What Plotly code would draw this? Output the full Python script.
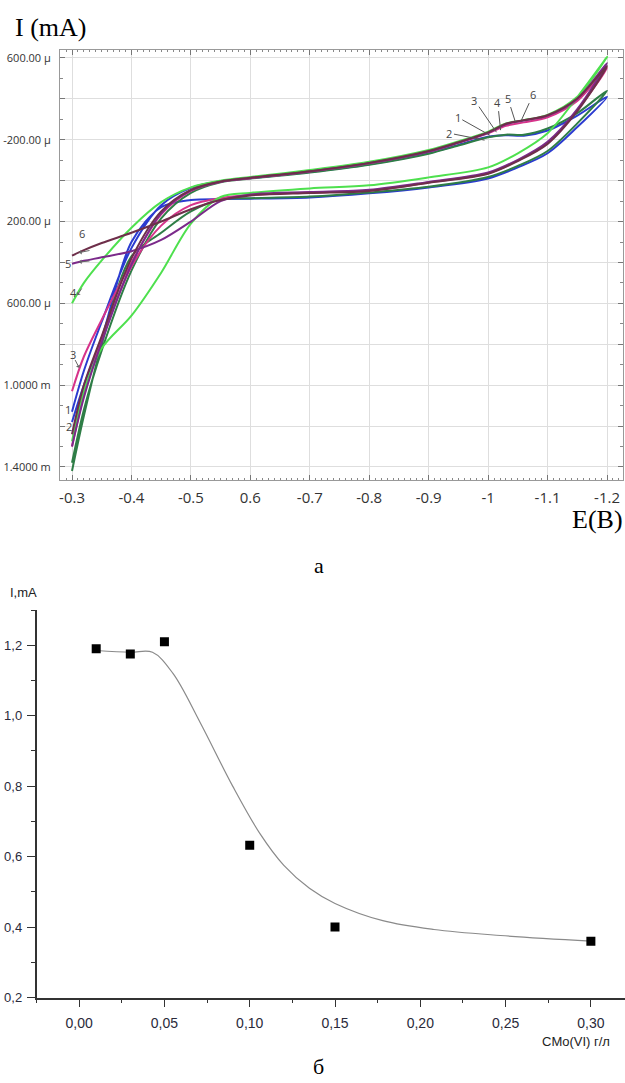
import plotly.graph_objects as go

# ---------------- Top chart (cyclic voltammograms) ----------------
E_FWD = [-0.30, -0.32, -0.35, -0.40, -0.45, -0.50, -0.55, -0.60, -0.70, -0.80,
         -0.90, -0.95, -1.00, -1.03, -1.06, -1.10, -1.15, -1.20]
E_REV = [-1.20, -1.15, -1.10, -1.05, -1.00, -0.90, -0.80, -0.70, -0.60, -0.55,
         -0.50, -0.45, -0.40, -0.35, -0.32, -0.30]

# currents in µA (axis labels shown in µ / m units)
I_FWD_1 = [1130, 930, 690, 330, 120, 35, 2, -12, -42, -80, -135, -175, -215, -222, -220, -245, -318, -410]
I_FWD_2 = [1380, 1120, 830, 440, 185, 60, 8, -10, -40, -78, -132, -172, -212, -225, -224, -255, -330, -440]
I_FWD_3 = [1030, 860, 680, 400, 165, 50, 5, -12, -45, -85, -142, -185, -232, -268, -285, -310, -390, -550]
I_FWD_4 = [600, 500, 390, 230, 105, 33, 0, -18, -52, -92, -150, -192, -240, -280, -296, -322, -410, -605]
I_FWD_5 = [1300, 1060, 790, 410, 160, 48, 5, -13, -45, -86, -143, -186, -234, -276, -294, -318, -400, -575]
I_FWD_6 = [1240, 1000, 760, 380, 150, 45, 4, -14, -46, -87, -145, -188, -236, -278, -296, -320, -402, -560]

I_REV_1 = [-410, -262, -134, -65, -11, 33, 62, 82, 88, 90, 95, 130, 300, 770, 1000, 1180]
I_REV_2 = [-440, -280, -145, -72, -18, 30, 58, 78, 86, 92, 150, 255, 370, 800, 1150, 1420]
I_REV_3 = [-550, -345, -183, -99, -36, 9, 48, 58, 70, 85, 120, 220, 420, 780, 1050, 1300]
I_REV_4 = [-605, -409, -232, -134, -65, -16, 23, 38, 60, 80, 210, 450, 660, 820, 1030, 1275]
I_REV_5 = [-575, -350, -190, -102, -40, 6, 45, 56, 68, 100, 200, 290, 345, 375, 392, 406]
I_REV_6 = [-560, -340, -180, -96, -34, 10, 50, 60, 72, 95, 140, 200, 255, 305, 340, 367]

CURVE_COLORS = ["#2b3bd0", "#2e7d46", "#d6338a", "#4ee04e", "#7b2a8a", "#6e2f4a"]

E_TICKS = [-0.3, -0.4, -0.5, -0.6, -0.7, -0.8, -0.9, -1.0, -1.1, -1.2]
E_TICKTEXT = ["-0.3", "-0.4", "-0.5", "0.6", "-0.7", "-0.8", "-0.9", "-1", "-1.1", "-1.2"]
I_TICKS = [-600, -400, -200, 0, 200, 400, 600, 800, 1000, 1200, 1400]
I_TICKTEXT = ["600.00 µ", "", "-200.00 µ", "", "200.00 µ", "", "600.00 µ", "", "1.0000 m", "", "1.4000 m"]

# ---------------- Bottom chart ----------------
C_MO = [0.01, 0.03, 0.05, 0.10, 0.15, 0.30]
I_MA = [1.19, 1.175, 1.21, 0.632, 0.40, 0.36]
FIT_X = [0.01, 0.03, 0.043, 0.055, 0.071, 0.09, 0.106, 0.12, 0.135, 0.15, 0.178, 0.208, 0.247, 0.30]
FIT_Y = [1.185, 1.18, 1.18, 1.12, 0.98, 0.80, 0.665, 0.575, 0.51, 0.467, 0.418, 0.393, 0.376, 0.36]
C_TICKS = [0.0, 0.05, 0.10, 0.15, 0.20, 0.25, 0.30]
C_TICKTEXT = ["0,00", "0,05", "0,10", "0,15", "0,20", "0,25", "0,30"]
IM_TICKS = [0.2, 0.4, 0.6, 0.8, 1.0, 1.2]
IM_TICKTEXT = ["0,2", "0,4", "0,6", "0,8", "1,0", "1,2"]

W, H = 625, 1083
fig = go.Figure()

fwd = [I_FWD_1, I_FWD_2, I_FWD_3, I_FWD_4, I_FWD_5, I_FWD_6]
rev = [I_REV_1, I_REV_2, I_REV_3, I_REV_4, I_REV_5, I_REV_6]
for f, r, c in zip(fwd, rev, CURVE_COLORS):
    fig.add_trace(go.Scatter(
        x=E_FWD + E_REV[1:], y=f + r[1:], mode="lines",
        line=dict(color=c, width=2, shape="spline", smoothing=0.9),
        xaxis="x", yaxis="y", hoverinfo="skip"))

fig.add_trace(go.Scatter(
    x=FIT_X, y=FIT_Y, mode="lines",
    line=dict(color="#8a8a8a", width=1.2, shape="spline", smoothing=1.0),
    xaxis="x2", yaxis="y2"))
fig.add_trace(go.Scatter(
    x=C_MO, y=I_MA, mode="markers",
    marker=dict(symbol="square", size=9, color="black"),
    xaxis="x2", yaxis="y2"))

sans = "Open Sans"
serif = "Liberation Serif"

def px_x(p):
    return p / W

def px_y(p):
    return 1 - p / H

fig.update_layout(
    width=W, height=H, margin=dict(l=0, r=0, t=0, b=0),
    paper_bgcolor="white", plot_bgcolor="white", showlegend=False,
    xaxis=dict(
        domain=[px_x(60), px_x(623)], anchor="y",
        range=[-0.2798, -1.2269], tickmode="array",
        tickvals=E_TICKS, ticktext=E_TICKTEXT,
        ticks="inside", ticklen=5, tickcolor="#777", tickwidth=1,
        showline=True, linecolor="#999", linewidth=1, mirror="ticks",
        showgrid=True, gridcolor="#dedede", gridwidth=1, zeroline=False,
        tickfont=dict(family=sans, size=15, color="#333"),
        ticklabelstandoff=4, automargin=False,
        minor=dict(tickmode="linear", tick0=-0.3, dtick=0.01, ticks="inside",
                   ticklen=2, tickcolor="#888", showgrid=False)),
    yaxis=dict(
        domain=[px_y(480), px_y(50)], anchor="x",
        range=[1464, -639], tickmode="array",
        tickvals=I_TICKS, ticktext=I_TICKTEXT,
        ticks="inside", ticklen=5, tickcolor="#777",
        showline=True, linecolor="#999", linewidth=1, mirror="ticks",
        showgrid=True, gridcolor="#dedede", gridwidth=1, zeroline=False,
        tickfont=dict(family=sans, size=11, color="#333"),
        ticklabelstandoff=6, automargin=False,
        minor=dict(tickmode="linear", tick0=-600, dtick=100, ticks="inside",
                   ticklen=3, tickcolor="#888", showgrid=False)),
    xaxis2=dict(
        domain=[px_x(36.5), 1.0], anchor="y2",
        range=[-0.025, 0.32], tickmode="array",
        tickvals=C_TICKS, ticktext=C_TICKTEXT,
        ticks="outside", ticklen=8, tickwidth=1.3, tickcolor="#333",
        showline=True, linecolor="#333", linewidth=1.5,
        showgrid=False, zeroline=False,
        tickfont=dict(family="Liberation Sans", size=14, color="#2a2a3a"),
        ticklabelstandoff=4, automargin=False,
        minor=dict(tickmode="linear", tick0=0, dtick=0.025, ticks="outside",
                   ticklen=4, tickwidth=1.3, tickcolor="#333", showgrid=False)),
    yaxis2=dict(
        domain=[px_y(997.5), px_y(610)], anchor="x2",
        range=[0.2, 1.3], tickmode="array",
        tickvals=IM_TICKS, ticktext=IM_TICKTEXT,
        ticks="outside", ticklen=8, tickwidth=1.3, tickcolor="#333",
        showline=True, linecolor="#333", linewidth=1.5,
        showgrid=False, zeroline=False,
        tickfont=dict(family="Liberation Sans", size=13, color="#2a2a3a"),
        ticklabelstandoff=2, automargin=False,
        minor=dict(tickmode="linear", tick0=0.2, dtick=0.1, ticks="outside",
                   ticklen=4, tickwidth=1.3, tickcolor="#333", showgrid=False)),
)

ann = []
# titles / captions
ann.append(dict(text="I (mA)", x=px_x(13), y=px_y(28), xref="paper", yref="paper",
                xanchor="left", yanchor="middle", showarrow=False,
                font=dict(family=serif, size=26, color="black")))
ann.append(dict(text="E(B)", x=px_x(625), y=px_y(519), xref="paper", yref="paper",
                xanchor="right", yanchor="middle", showarrow=False,
                font=dict(family=serif, size=26, color="black")))
ann.append(dict(text="а", x=px_x(319), y=px_y(565), xref="paper", yref="paper",
                xanchor="center", yanchor="middle", showarrow=False,
                font=dict(family=serif, size=22, color="black")))
ann.append(dict(text="б", x=px_x(318), y=px_y(1066), xref="paper", yref="paper",
                xanchor="center", yanchor="middle", showarrow=False,
                font=dict(family=serif, size=22, color="black")))
ann.append(dict(text="I,mA", x=px_x(24), y=px_y(592), xref="paper", yref="paper",
                xanchor="center", yanchor="middle", showarrow=False,
                font=dict(family="Liberation Sans", size=13, color="#222")))
ann.append(dict(text="CMo(VI) г/л", x=px_x(612), y=px_y(1041), xref="paper", yref="paper",
                xanchor="right", yanchor="middle", showarrow=False,
                font=dict(family="Liberation Sans", size=13, color="#222")))

lab_font = dict(family=sans, size=11, color="#444")
# curve labels near the reduction wave (text position -> tip on curve)
TR_LABELS = ["1", "2", "3", "4", "5", "6"]
TR_TEXT_E = [-0.949, -0.935, -0.977, -1.016, -1.033, -1.076]
TR_TEXT_I = [-310, -232, -394, -384, -404, -423]
TR_TIP_E = [-1.003, -0.994, -1.014, -1.021, -1.046, -1.056]
TR_TIP_I = [-222, -198, -237, -247, -286, -296]
for t, te, ti, pe, pi in zip(TR_LABELS, TR_TEXT_E, TR_TEXT_I, TR_TIP_E, TR_TIP_I):
    ann.append(dict(text=t, x=pe, y=pi, ax=te, ay=ti, xref="x", yref="y",
                    axref="x", ayref="y", showarrow=True, arrowhead=0,
                    arrowwidth=1, arrowcolor="#555", font=lab_font, standoff=0))

# labels at the start of the curves
L_LABELS = ["6", "5", "4", "3", "1", "2"]
L_E = [-0.316, -0.293, -0.302, -0.301, -0.293, -0.295]
L_I = [258, 404, 548, 848, 1118, 1200]
for t, e, i in zip(L_LABELS, L_E, L_I):
    ann.append(dict(text=t, x=e, y=i, xref="x", yref="y", showarrow=False,
                    font=lab_font))
# small arrow heads on curves 6, 5, 4 and leader of 3
AR_TIP_E = [-0.312, -0.312, -0.309, -0.312]
AR_TIP_I = [352, 398, 560, 915]
AR_TAIL_E = [-0.332, -0.332, -0.318, -0.304]
AR_TAIL_I = [340, 392, 520, 870]
for pe, pi, te, ti in zip(AR_TIP_E, AR_TIP_I, AR_TAIL_E, AR_TAIL_I):
    ann.append(dict(text="", x=pe, y=pi, ax=te, ay=ti, xref="x", yref="y",
                    axref="x", ayref="y", showarrow=True, arrowhead=1,
                    arrowsize=0.8, arrowwidth=1, arrowcolor="#666"))

fig.update_layout(annotations=ann)
fig.write_html("out.html")
